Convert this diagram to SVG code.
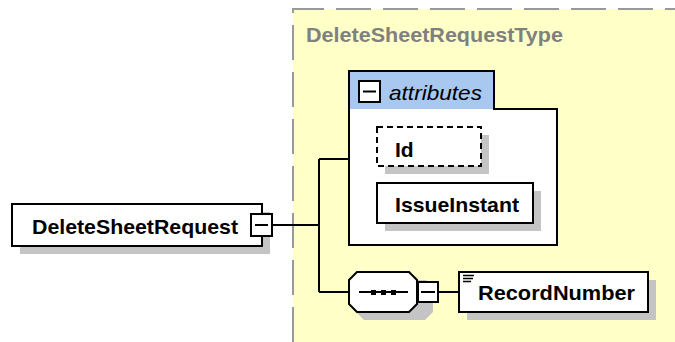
<svg xmlns="http://www.w3.org/2000/svg" width="675" height="342" viewBox="0 0 675 342">
<style>
.box{fill:#ffffff;stroke:#000000;stroke-width:2}
.shadow{fill:#c4c4c4}
.lbl{font-family:"Liberation Sans",Arial,sans-serif;font-weight:bold;font-size:21px;fill:#000000}
.conn{fill:none;stroke:#000000;stroke-width:2}
.btn{fill:#ffffff;stroke:#000000;stroke-width:2}
</style>
<rect width="675" height="342" fill="#ffffff"/>
<g id="DeleteSheetRequestType">
<rect x="293" y="9" width="382" height="333" fill="#ffffc8"/>
<path d="M293 342 V9 H675" fill="none" stroke="#999999" stroke-width="2" stroke-dasharray="35 12"/>
<text x="306" y="42" class="lbl" style="fill:#808080" textLength="257" lengthAdjust="spacingAndGlyphs">DeleteSheetRequestType</text>
</g>
<g id="connectors">
<path class="conn" d="M272 225 H319 M319 159 V292 M319 159 H349 M319 292 H349 M438 292 H459"/>
</g>
<g id="attributes">
<path d="M349 71 H494 V109 H557 V245 H349 Z" fill="#ffffff"/>
<rect x="349" y="71" width="145" height="38" fill="#a8c8f0"/>
<path d="M349 71 H494 V109 H557 V245 H349 Z" fill="none" stroke="#000000" stroke-width="2"/>
<rect x="359" y="81" width="21" height="21" class="btn"/>
<path d="M363 91.5 H376" stroke="#000000" stroke-width="2"/>
<text x="389" y="100" font-family="'Liberation Sans',Arial,sans-serif" font-style="italic" font-size="21" fill="#000000" textLength="93" lengthAdjust="spacingAndGlyphs">attributes</text>
</g>
<g id="Id">
<rect x="385" y="135" width="104" height="39" class="shadow"/>
<rect x="377" y="127" width="104" height="39" fill="#ffffff" stroke="#000000" stroke-width="2" stroke-dasharray="6 4"/>
<text x="395" y="157" class="lbl">Id</text>
</g>
<g id="IssueInstant">
<rect x="385" y="191" width="156" height="40" class="shadow"/>
<rect x="377" y="183" width="156" height="40" class="box"/>
<text x="395" y="212" class="lbl" textLength="124" lengthAdjust="spacingAndGlyphs">IssueInstant</text>
</g>
<g id="DeleteSheetRequest">
<rect x="20" y="212" width="250" height="42" class="shadow"/>
<rect x="12" y="204" width="250" height="42" class="box"/>
<text x="32" y="234" class="lbl" textLength="206" lengthAdjust="spacingAndGlyphs">DeleteSheetRequest</text>
<rect x="251" y="214" width="21" height="22" class="btn"/>
<path d="M255 225 H268" stroke="#000000" stroke-width="2"/>
</g>
<g id="sequence">
<path d="M357 280 H426 L433 287 V312 L425 320 H364 L357 313 Z" class="shadow"/>
<path d="M357 272 H409 L417 280 V304 L409 312 H357 L349 304 V280 Z" class="box"/>
<path d="M359 292 H408" stroke="#000000" stroke-width="2"/>
<rect x="371" y="290" width="5" height="5" fill="#000000"/>
<rect x="381" y="290" width="5" height="5" fill="#000000"/>
<rect x="391" y="290" width="5" height="5" fill="#000000"/>
<rect x="418" y="282" width="20" height="20" class="btn"/>
<path d="M421 292 H435" stroke="#000000" stroke-width="2"/>
</g>
<g id="RecordNumber">
<rect x="467" y="280" width="189" height="40" class="shadow"/>
<rect x="459" y="272" width="189" height="40" class="box"/>
<path d="M463 275.5 H474 M463 278.5 H473 M463 281.5 H471" stroke="#000000" stroke-width="1.5"/>
<text x="478" y="300" class="lbl" textLength="157" lengthAdjust="spacingAndGlyphs">RecordNumber</text>
</g>
</svg>
